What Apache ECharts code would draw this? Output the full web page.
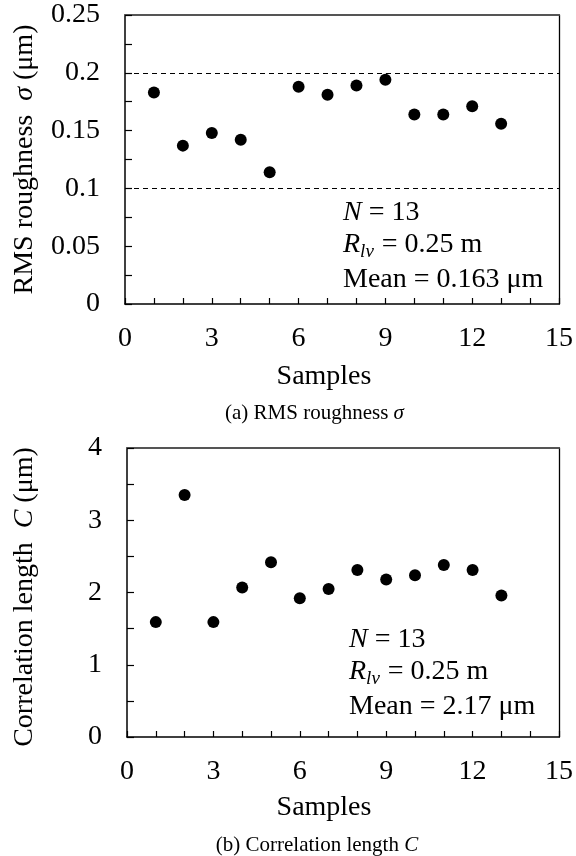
<!DOCTYPE html>
<html><head><meta charset="utf-8">
<script src="https://cdn.jsdelivr.net/npm/echarts@6/dist/echarts.min.js"></script>
<style>html,body{margin:0;padding:0;background:#fff}#c{width:576px;height:856px}</style>
</head><body><div id="c"></div>
<script>
// ---- data ----
const samples = [1, 2, 3, 4, 5, 6, 7, 8, 9, 10, 11, 12, 13];
const rmsRoughness = [0.183, 0.137, 0.148, 0.142, 0.114, 0.188, 0.181, 0.189, 0.194, 0.164, 0.164, 0.171, 0.156];
const corrLength = [1.59, 3.35, 1.59, 2.07, 2.42, 1.92, 2.05, 2.31, 2.18, 2.24, 2.38, 2.31, 1.96];
const xTicks = [0, 3, 6, 9, 12, 15];
const yTicksTop = [0, 0.05, 0.1, 0.15, 0.2, 0.25];
const yTicksBottom = [0, 1, 2, 3, 4];
const refLines = [0.1, 0.2];

const FONT = 'Liberation Serif';
const near = (v, arr) => arr.some(t => Math.abs(t - v) < 1e-6);
const fmt = v => String(parseFloat(v.toFixed(3)));

function xAxisMain(gi) {
  return {
    type: 'value', gridIndex: gi, min: 0, max: 15, interval: 1, position: 'bottom',
    axisLine: { show: true, onZero: false, lineStyle: { color: '#000', width: 1.5 } },
    axisTick: { show: true, inside: true, length: 6, lineStyle: { color: '#000', width: 1.2 } },
    axisLabel: { margin: 21, fontFamily: FONT, fontSize: 28, color: '#000',
      formatter: v => near(v, xTicks) ? fmt(v) : '' },
    splitLine: { show: false }
  };
}
function xAxisTop(gi) {
  return {
    type: 'value', gridIndex: gi, min: 0, max: 15, position: 'top',
    axisLine: { show: true, onZero: false, lineStyle: { color: '#555', width: 2 } },
    axisTick: { show: false }, axisLabel: { show: false }, splitLine: { show: false }
  };
}
function yAxisMain(gi, max, interval, labels) {
  return {
    type: 'value', gridIndex: gi, min: 0, max: max, interval: interval, position: 'left',
    axisLine: { show: true, onZero: false, lineStyle: { color: '#000', width: 1.5 } },
    axisTick: { show: true, inside: true, length: 7, lineStyle: { color: '#000', width: 1.2 } },
    axisLabel: { margin: 25, fontFamily: FONT, fontSize: 28, color: '#000',
      formatter: v => near(v, labels) ? fmt(v) : '' },
    splitLine: { show: false }
  };
}
function yAxisRight(gi, max) {
  return {
    type: 'value', gridIndex: gi, min: 0, max: max, position: 'right',
    axisLine: { show: true, onZero: false, lineStyle: { color: '#000', width: 1.3 } },
    axisTick: { show: false }, axisLabel: { show: false }, splitLine: { show: false }
  };
}

const rich = {
  n: { fontFamily: FONT, fontSize: 28, color: '#000', lineHeight: 30 },
  i: { fontFamily: FONT, fontSize: 28, fontStyle: 'italic', color: '#000', lineHeight: 30 },
  s: { fontFamily: FONT, fontSize: 19, fontStyle: 'italic', color: '#000', verticalAlign: 'top', padding: [13, 1, 0, 0] }
};
const richC = {
  n: { fontFamily: FONT, fontSize: 21, color: '#000' },
  i: { fontFamily: FONT, fontSize: 21, fontStyle: 'italic', color: '#000' }
};
function txt(x, y, text, r, align, rot) {
  return { type: 'text', x: x, y: y, rotation: rot || 0,
    style: { text: text, rich: r, align: align, verticalAlign: 'middle', fill: '#000', fontFamily: FONT } };
}

const chart = echarts.init(document.getElementById('c'));
chart.setOption({
  animation: false,
  backgroundColor: '#fff',
  grid: [
    { left: 125, top: 15, width: 436, height: 289 },
    { left: 127, top: 448, width: 435, height: 289 }
  ],
  xAxis: [xAxisMain(0), xAxisTop(0), xAxisMain(1), xAxisTop(1)],
  yAxis: [yAxisMain(0, 0.25, 0.025, yTicksTop), yAxisRight(0, 0.25),
          yAxisMain(1, 4, 0.5, yTicksBottom), yAxisRight(1, 4)],
  series: [
    {
      type: 'scatter', xAxisIndex: 0, yAxisIndex: 0, symbolSize: 12,
      itemStyle: { color: '#000', opacity: 1 },
      data: samples.map((s, i) => [s, rmsRoughness[i]]),
      markLine: {
        silent: true, symbol: ['none', 'none'], label: { show: false },
        lineStyle: { type: [5, 4], color: '#000', width: 1.2 },
        data: refLines.map(v => ({ yAxis: v }))
      }
    },
    {
      type: 'scatter', xAxisIndex: 2, yAxisIndex: 2, symbolSize: 12,
      itemStyle: { color: '#000', opacity: 1 },
      data: samples.map((s, i) => [s, corrLength[i]])
    }
  ],
  graphic: [
    txt(25, 159.5, '{n|RMS roughness  }{i|σ}{n| (μm)}', rich, 'center', Math.PI / 2),
    txt(25, 597, '{n|Correlation length  }{i|C}{n| (μm)}', rich, 'center', Math.PI / 2),
    txt(324, 377, '{n|Samples}', rich, 'center'),
    txt(324, 808, '{n|Samples}', rich, 'center'),
    txt(314.5, 413, '{n|(a) RMS roughness }{i|σ}', richC, 'center'),
    txt(317, 845, '{n|(b) Correlation length }{i|C}', richC, 'center'),
    txt(343, 213, '{i|N}{n| = 13}', rich, 'left'),
    txt(343, 245, '{i|R}{s|lv}{n| = 0.25 m}', rich, 'left'),
    txt(343, 280, '{n|Mean = 0.163 μm}', rich, 'left'),
    txt(349, 640, '{i|N}{n| = 13}', rich, 'left'),
    txt(349, 672, '{i|R}{s|lv}{n| = 0.25 m}', rich, 'left'),
    txt(349, 707, '{n|Mean = 2.17 μm}', rich, 'left')
  ]
});
</script></body></html>
